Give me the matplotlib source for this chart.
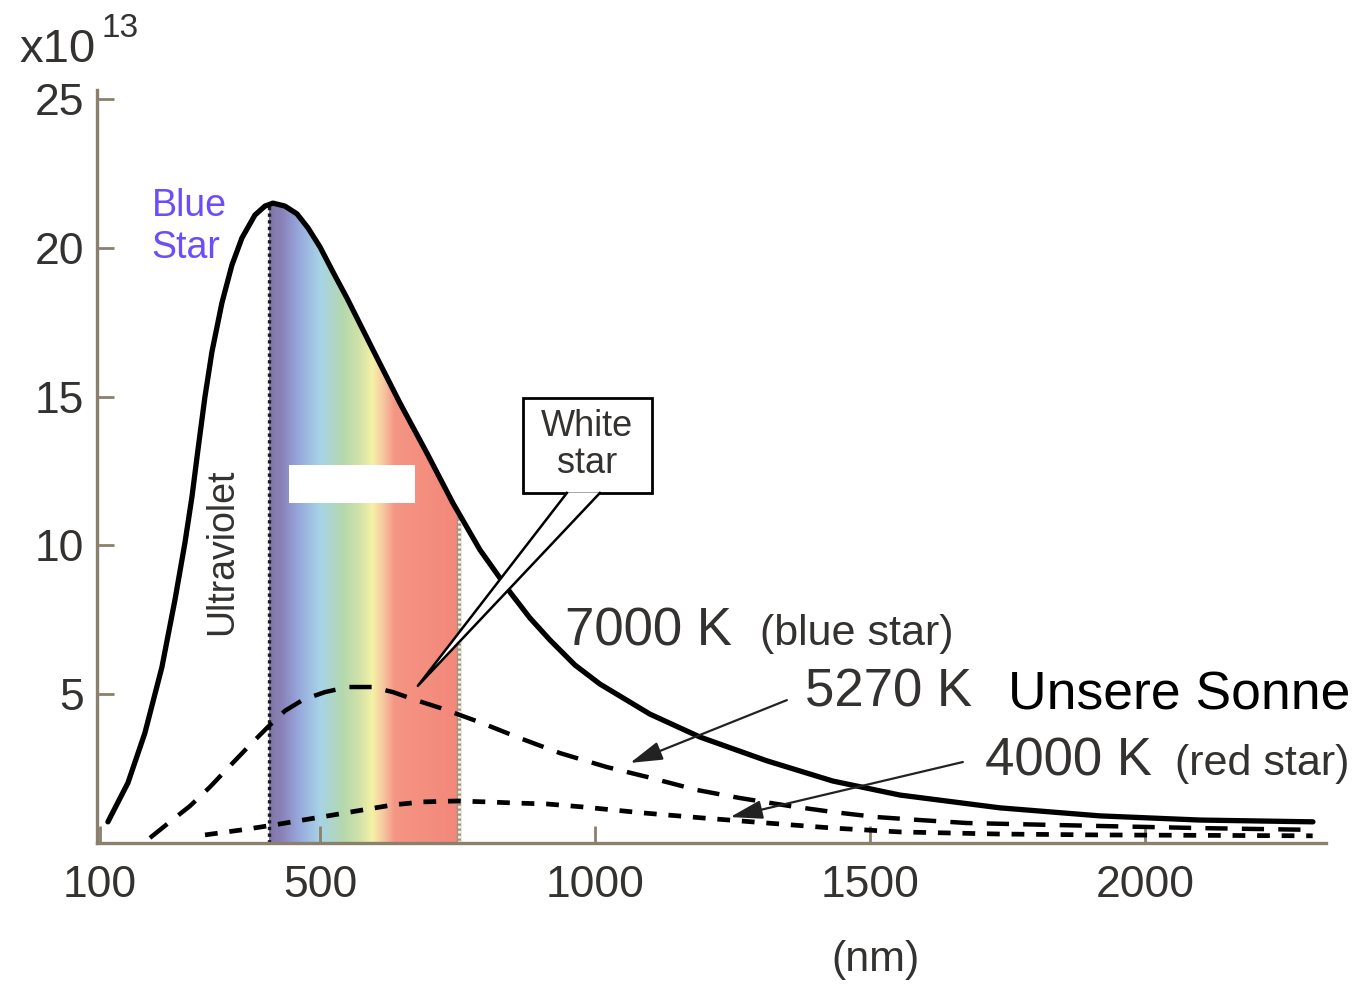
import numpy as np
import matplotlib
matplotlib.use('Agg')
import matplotlib.pyplot as plt
from matplotlib.colors import LinearSegmentedColormap
from matplotlib.patches import Polygon, Rectangle

plt.rcParams['font.family'] = ['Liberation Sans', 'DejaVu Sans']

# wavelength (nm) and spectral radiance (x10^13)
wl_7000 = [114.5, 150.9, 181.8, 212.7, 236.4, 254.5, 267.3, 278.2, 290.9, 303.6,
           321.8, 340.0, 358.2, 381.8, 400.0, 414.5, 436.4, 458.2, 478.2, 500.0,
           523.6, 549.1, 596.4, 645.5, 694.5, 741.8, 790.9, 845.5, 881.8, 918.2,
           963.6, 1009.1, 1100.0, 1190.9, 1312.7, 1432.7, 1554.5, 1736.4, 1918.2,
           2100.0, 2305.5]
val_7000 = [0.71, 2.02, 3.70, 5.91, 8.17, 10.08, 11.63, 13.21, 14.99, 16.50,
            18.15, 19.42, 20.33, 21.10, 21.40, 21.50, 21.40, 21.14, 20.67, 20.03,
            19.19, 18.31, 16.57, 14.78, 13.10, 11.42, 9.85, 8.43, 7.56, 6.82,
            5.98, 5.34, 4.33, 3.56, 2.76, 2.08, 1.61, 1.18, 0.91,
            0.77, 0.71]

wl_5270 = [190.9, 227.3, 263.6, 300.0, 336.4, 372.7, 405.5, 436.4, 469.1, 509.1,
           550.9, 594.5, 632.7, 672.7, 718.2, 754.5, 794.5, 858.2, 936.4, 1021.8,
           1094.5, 1185.5, 1263.6, 1354.5, 1432.7, 1512.7, 1590.9, 1676.4, 1918.2,
           2100.0, 2305.5]
val_5270 = [0.17, 0.71, 1.24, 1.88, 2.59, 3.29, 3.90, 4.44, 4.81, 5.07,
            5.24, 5.24, 5.07, 4.81, 4.54, 4.30, 4.03, 3.56, 3.02, 2.55,
            2.22, 1.78, 1.51, 1.24, 1.04, 0.87, 0.77, 0.67, 0.57,
            0.50, 0.44]

wl_4000 = [291, 358, 415, 469, 524, 578, 633, 687, 749, 804, 858, 913, 978, 1087,
           1196, 1313, 1433, 1555, 1736, 1918, 2305]
val_4000 = [0.27, 0.44, 0.60, 0.77, 0.94, 1.11, 1.28, 1.38, 1.41, 1.38, 1.34, 1.31,
            1.21, 1.01, 0.84, 0.67, 0.50, 0.37, 0.30, 0.27, 0.24]

visible_nm = [407, 753]
spectrum_nm = [405, 430, 460, 500, 540, 570, 595, 615, 635, 755]
spectrum_colors = ['#7f74a6', '#8a82b8', '#97a8dc', '#a7d4e6', '#b4d8ae',
                   '#cfe2a8', '#f6f1a6', '#f7c6a0', '#f59584', '#f3877a']

x_ticks = [100, 500, 1000, 1500, 2000]
y_ticks = [5, 10, 15, 20, 25]

axis_col = '#8b806c'
text_col = '#343230'

fig = plt.figure(figsize=(13.67, 9.85), dpi=100)
ax = fig.add_axes([0.0707, 0.1442, 0.8996, 0.7644])
ax.set_xlim(94, 2330)
ax.set_ylim(0, 25.3)

# visible band, clipped to the area under the 7000 K curve
pos = [(n - spectrum_nm[0]) / (spectrum_nm[-1] - spectrum_nm[0]) for n in spectrum_nm]
cmap = LinearSegmentedColormap.from_list('spec', list(zip(pos, spectrum_colors)))
lo = (visible_nm[0] - spectrum_nm[0]) / (spectrum_nm[-1] - spectrum_nm[0])
hi = (visible_nm[1] - spectrum_nm[0]) / (spectrum_nm[-1] - spectrum_nm[0])
grad = np.linspace(lo, hi, 400).reshape(1, -1)
img = ax.imshow(grad, extent=[visible_nm[0], visible_nm[1], 0, 23], aspect='auto',
                cmap=cmap, vmin=0, vmax=1, zorder=1, interpolation='bilinear')
under = Polygon(list(zip(wl_7000, val_7000)) + [(wl_7000[-1], 0), (wl_7000[0], 0)],
                closed=True, facecolor='none', edgecolor='none')
ax.add_patch(under)
img.set_clip_path(under)

# edges of the visible band
ax.plot([visible_nm[0]] * 2, [0, 21.45], color='#1a1a1a', lw=2.4,
        linestyle=(0, (1, 1)), zorder=2)
ax.plot([visible_nm[1]] * 2, [0, 10.9], color='#a09680', lw=3.2, zorder=2)
ax.plot([visible_nm[1]] * 2, [0, 10.9], color='#f4f0e6', lw=2.0,
        linestyle=(0, (1, 0.8)), zorder=2)

# covered label in the band
ax.add_patch(Rectangle((444, 11.42), 229, 1.28, facecolor='white', edgecolor='none',
                       zorder=3))

ax.plot(wl_7000, val_7000, color='black', lw=3.8, solid_joinstyle='round',
        solid_capstyle='round', zorder=4)
ax.plot(wl_5270, val_5270, color='black', lw=3.2, linestyle=(0, (5.0, 3.2)), zorder=4)
ax.plot(wl_4000, val_4000, color='black', lw=3.4, linestyle=(0, (2.7, 2.5)), zorder=4)

# axes styling
for s in ['top', 'right']:
    ax.spines[s].set_visible(False)
for s in ['left', 'bottom']:
    ax.spines[s].set_color(axis_col)
    ax.spines[s].set_linewidth(2.4)
ax.set_xticks(x_ticks)
ax.set_yticks(y_ticks)
ax.tick_params(direction='in', length=12, width=2, color=axis_col,
               labelsize=32, labelcolor=text_col)
ax.tick_params(axis='x', pad=16)
ax.tick_params(axis='y', pad=9)

fig.text(19 / 1367, 1 - 62 / 985, 'x10', fontsize=34, color=text_col, va='baseline')
fig.text(101 / 1367, 1 - 37 / 985, '13', fontsize=24, color=text_col, va='baseline')
fig.text(875 / 1367, 1 - 960 / 985, '(nm)', fontsize=31, color=text_col,
         ha='center', va='center')

# annotations
ax.text(194, 22.0, 'Blue\nStar', fontsize=27, color='#6b4dfa', va='top',
        linespacing=1.2, zorder=5)
ax.text(322, 9.8, 'Ultraviolet', fontsize=27, color=text_col, rotation=90,
        ha='center', va='center', zorder=5)

ax.add_patch(Rectangle((869, 11.76), 234.6, 3.19, facecolor='white', edgecolor='black',
                       lw=2.0, zorder=6))
ax.text(986, 13.37, 'White\nstar', fontsize=26, color=text_col, ha='center',
        va='center', linespacing=1.05, zorder=7)
tail = [(949, 11.78), (1009, 11.78), (678, 5.28)]
ax.add_patch(Polygon(tail, closed=True, facecolor='white', edgecolor='none', zorder=6))
ax.plot([949, 678, 1009], [11.76, 5.28, 11.76], color='black', lw=1.8, zorder=6)

ax.text(945, 6.65, '7000 K', fontsize=38, color=text_col, va='baseline', zorder=5)
ax.text(1300, 6.65, '(blue star)', fontsize=31, color=text_col, va='baseline', zorder=5)
ax.text(1382, 4.60, '5270 K', fontsize=38, color=text_col, va='baseline', zorder=5)
ax.text(1751, 4.47, 'Unsere Sonne', fontsize=38.5, color='black', va='baseline',
        clip_on=False, zorder=5)
ax.text(1709, 2.28, '4000 K', fontsize=38, color=text_col, va='baseline',
        clip_on=False, zorder=5)
ax.text(2054, 2.28, '(red star)', fontsize=31, color=text_col, va='baseline',
        clip_on=False, zorder=5)

arrow = dict(arrowstyle='-|>,head_length=1.1,head_width=0.32', color='#222222',
             lw=1.6, shrinkA=0, shrinkB=0, mutation_scale=18)
ax.annotate('', xy=(1064, 2.69), xytext=(1349, 4.80), arrowprops=arrow, zorder=5)
ax.annotate('', xy=(1246, 0.87), xytext=(1669, 2.72), arrowprops=arrow, zorder=5)

fig.savefig('out.png', dpi=100)
